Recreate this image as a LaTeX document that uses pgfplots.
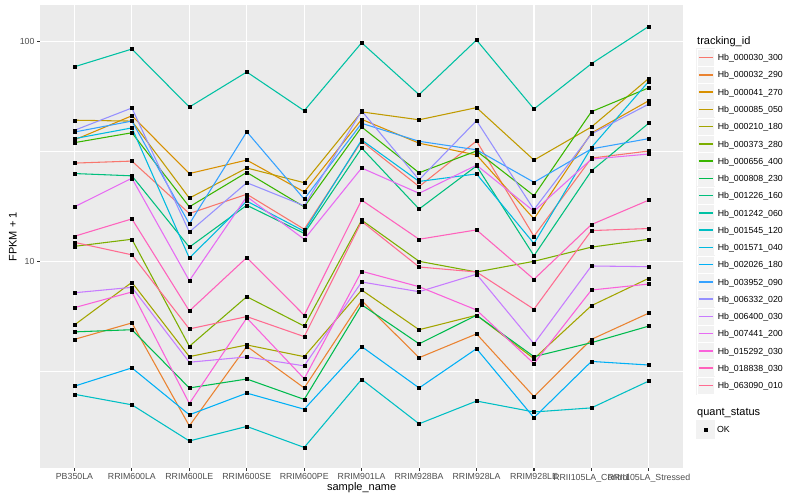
\documentclass[border=0pt]{standalone}
\usepackage{fontspec}
\setmainfont{Liberation Sans}
\usepackage{pgfplots}
\pgfplotsset{compat=1.18}
\usepackage{pgfplotstable}

\definecolor{c1}{HTML}{F8766D}
\definecolor{c2}{HTML}{EA8331}
\definecolor{c3}{HTML}{D89000}
\definecolor{c4}{HTML}{C09B00}
\definecolor{c5}{HTML}{A3A500}
\definecolor{c6}{HTML}{7CAE00}
\definecolor{c7}{HTML}{39B600}
\definecolor{c8}{HTML}{00BB4E}
\definecolor{c9}{HTML}{00BF7D}
\definecolor{c10}{HTML}{00C1A3}
\definecolor{c11}{HTML}{00BFC4}
\definecolor{c12}{HTML}{00BAE0}
\definecolor{c13}{HTML}{00B0F6}
\definecolor{c14}{HTML}{35A2FF}
\definecolor{c15}{HTML}{9590FF}
\definecolor{c16}{HTML}{C77CFF}
\definecolor{c17}{HTML}{E76BF3}
\definecolor{c18}{HTML}{FA62DB}
\definecolor{c19}{HTML}{FF62BC}
\definecolor{c20}{HTML}{FF6C91}
\definecolor{panelgrey}{HTML}{EBEBEB}
\definecolor{keygrey}{HTML}{F2F2F2}
\definecolor{grey30}{HTML}{4D4D4D}
\definecolor{grey20}{HTML}{333333}

% x: 0 PB350LA ... 10 RRII105LA_Stressed
\pgfplotstableread{
x  s1   s2   s3   s4   s5   s6   s7   s8   s9   s10   s11  s12   s13  s14  s15  s16  s17  s18  s19  s20
0  28.0 4.41 35.7 43.9 5.13 11.7 34.7 4.77 25.1 76.9  2.48 36.2  2.70 38.8 39.5 7.19 17.7 6.15 13.0 12.2
1  28.6 5.24 46.0 43.5 8.02 12.6 38.5 4.88 24.5 92.6  2.22 40.5  3.27 43.5 49.9 7.61 23.9 7.25 15.6 10.7
2  16.5 1.78 25.1 19.4 3.68 4.10 17.7 2.65 11.6 50.4  1.52 10.35 2.00 14.8 13.6 3.47 8.16 2.25 5.94 4.92
3  20.2 4.10 28.9 26.6 4.16 6.90 25.4 2.91 18.0 72.8  1.77 18.8  2.51 38.9 22.8 3.67 19.7 5.52 10.4 5.60
4  14.0 2.65 20.7 22.8 3.68 5.07 17.7 2.35 13.4 48.5  1.42 13.7  2.12 19.2 17.9 3.34 12.6 2.92 5.68 4.54
5  35.2 6.62 44.3 47.9 7.40 15.4 40.9 6.34 32.8 98.9  2.90 35.7  4.09 42.5 48.4 8.05 26.6 9.01 19.0 15.2
6  21.9 3.64 34.5 44.1 4.88 10.0 25.3 4.21 17.3 57.4  1.82 23.1  2.65 35.2 23.5 7.27 20.4 7.66 12.6 9.42
7  35.3 4.67 30.5 50.1 5.68 8.94 31.8 5.68 27.2 101.8 2.31 25.0  4.00 32.2 43.7 8.73 27.4 6.00 13.9 8.94
8  13.0 2.42 15.6 28.9 3.60 10.0 19.9 3.68 10.6 49.4  2.06 12.05 1.94 22.9 17.2 4.21 16.9 3.42 8.28 6.05
9  29.5 4.41 38.4 40.9 6.28 11.6 48.0 4.26 25.8 79.4  2.15 33.0  3.50 32.5 38.0 9.52 29.2 7.40 14.7 13.8
10 31.8 5.81 53.9 68.1 8.37 12.6 61.7 5.07 42.6 117.5 2.85 66.0  3.37 36.2 52.0 9.45 30.8 7.88 19.0 14.1
}\data

\newcommand{\smallfont}{\fontsize{8.8bp}{10bp}\selectfont}
\newcommand{\titlefont}{\fontsize{11bp}{13bp}\selectfont}

\begin{document}
\begin{tikzpicture}
\useasboundingbox (-40bp,-31.7bp) rectangle (760bp,468.3bp);
\begin{axis}[
  scale only axis, width=643.3bp, height=463bp,
  at={(0,0)}, anchor=south west,
  xmin=-0.6, xmax=10.6,
  ymode=log, ymin=1.141, ymax=146.5,
  clip mode=individual,
  axis background/.style={fill=panelgrey},
  axis line style={draw=none},
  xtick={0,1,2,3,4,5,6,7,8,9,10},
  xticklabels={PB350LA,RRIM600LA,RRIM600LE,RRIM600SE,RRIM600PE,RRIM901LA,RRIM928BA,RRIM928LA,RRIM928LE,RRII105LA\_Control,RRII105LA\_Stressed},
  ytick={10,100}, yticklabels={10,100},
  minor ytick={3.1623,31.623},
  grid=both,
  major grid style={white, line width=1.07bp},
  minor grid style={white, line width=0.53bp},
  tick pos=left, tick align=outside,
  major tick length=2.75bp, minor tick length=0bp,
  tick style={color=grey20, line width=1.07bp},
  minor tick style={draw=none},
  xticklabel style={font=\smallfont, text=grey30, inner sep=0pt, anchor=north, yshift=-2.5bp},
  yticklabel style={font=\smallfont, text=grey30, inner sep=0pt, anchor=east, xshift=-2.6bp},
  xlabel={sample\_name}, ylabel={FPKM + 1},
  every axis x label/.style={at={(axis description cs:0.5,-0.0469)}, anchor=base, font=\titlefont},
  every axis y label/.style={at={(axis description cs:-0.0365,0.5)}, rotate=90, anchor=base, font=\titlefont},
  legend style={at={(axis description cs:1.0205,0.8970)}, anchor=north west,
    draw=none, fill=none, inner sep=0pt, outer sep=0pt, row sep=8.19bp, column sep=0pt,
    nodes={inner sep=0pt, outer sep=0pt, text height=7.2bp, text depth=0.8bp, text=black, font=\smallfont},
    cells={anchor=west}},
  legend image code/.code={
    \fill[keygrey, overlay] (0bp,-8.64bp) rectangle (17.28bp,8.64bp);
    \draw[white, line width=0.5bp, overlay] (0bp,-8.64bp) rectangle (17.28bp,8.64bp);
    \draw[#1, line width=1.6bp] (1.73bp,0bp) -- (15.55bp,0bp);
    \path (0bp,-4bp) (20.2bp,4bp);
  },
]
\pgfplotsinvokeforeach{1,...,20}{
  \addplot[color=c#1, line width=1.07bp, mark=none] table[x=x, y=s#1] {\data};
}
\pgfplotsinvokeforeach{1,...,20}{
  \addplot[only marks, mark=square*, mark size=1.5bp, black, forget plot] table[x=x, y=s#1] {\data};
}
\legend{Hb\_000030\_300,Hb\_000032\_290,Hb\_000041\_270,Hb\_000085\_050,Hb\_000210\_180,Hb\_000373\_280,Hb\_000656\_400,Hb\_000808\_230,Hb\_001226\_160,Hb\_001242\_060,Hb\_001545\_120,Hb\_001571\_040,Hb\_002026\_180,Hb\_003952\_090,Hb\_006332\_020,Hb\_006400\_030,Hb\_007441\_200,Hb\_015292\_030,Hb\_018838\_030,Hb\_063090\_010}
\node[anchor=base west, font=\titlefont, inner sep=0pt] at (axis description cs:1.0213,0.9158) {tracking\_id};
\node[anchor=base west, font=\titlefont, inner sep=0pt] at (axis description cs:1.0213,0.1136) {quant\_status};
\end{axis}
\begin{axis}[
  scale only axis, width=643.3bp, height=463bp,
  at={(0,0)}, anchor=south west,
  hide axis, xmin=0, xmax=1, ymin=0, ymax=1,
  legend style={at={(axis description cs:1.0205,0.0935)}, anchor=north west,
    draw=none, fill=none, inner sep=0pt, outer sep=0pt, row sep=0pt, column sep=0pt,
    nodes={inner sep=0pt, outer sep=0pt, text height=7.2bp, text depth=0.8bp, text=black, font=\smallfont},
    cells={anchor=west}},
  legend image code/.code={
    \fill[keygrey, overlay] (0bp,-8.64bp) rectangle (17.28bp,8.64bp);
    \fill[black] (7.14bp,-1.5bp) rectangle (10.14bp,1.5bp);
    \path (0bp,-4bp) (20.2bp,4bp);
  },
]
\addlegendimage{black}
\addlegendentry{OK}
\end{axis}
\end{tikzpicture}
\end{document}
